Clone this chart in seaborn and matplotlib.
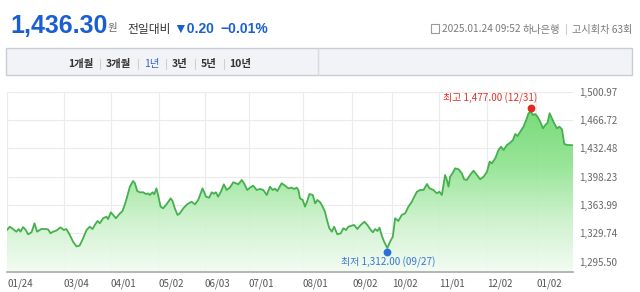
import numpy as np
import pandas as pd
import matplotlib
matplotlib.use("Agg")
import matplotlib.pyplot as plt
import seaborn as sns
from matplotlib.transforms import ScaledTranslation
from matplotlib.patches import Rectangle
from matplotlib.lines import Line2D
from matplotlib.colors import LinearSegmentedColormap

# ---------------- data ----------------
session = [0.0, 1.2, 2.6, 4.1, 5.1, 5.9, 7.0, 8.2, 9.2, 10.7, 12.0, 13.1, 15.0, 16.5, 17.9, 19.0,
           20.1, 21.6, 23.3, 24.8, 25.9, 27.4, 28.8, 30.3, 31.7, 33.2, 34.7, 36.1, 37.3, 38.3, 39.5,
           40.5, 41.9, 43.4, 44.1, 45.3, 46.3, 47.5, 48.9, 50.4, 51.8, 53.6, 55.0, 55.8, 56.8, 57.9,
           59.4, 60.6, 61.6, 62.3, 63.5, 64.2, 65.2, 65.9, 67.0, 68.1, 69.6, 71.4, 72.2, 73.2, 74.4,
           75.4, 76.9, 78.6, 80.5, 82.0, 83.4, 85.3, 86.8, 88.2, 89.3, 90.3, 91.1, 92.1, 93.3, 94.6,
           95.8, 97.2, 98.7, 99.9, 100.9, 102.4, 103.4, 104.8, 106.0, 107.4, 108.9, 110.4, 111.8,
           113.3, 114.7, 115.9, 116.9, 117.9, 119.8, 121.3, 122.7, 124.2, 125.3, 126.4, 127.1, 127.8,
           129.0, 130.0, 131.0, 131.9, 133.4, 134.4, 135.4, 136.6, 137.7, 138.7, 139.7, 140.6, 141.7,
           142.7, 144.1, 145.6, 146.7, 147.9, 148.9, 150.4, 151.4, 152.8, 154.3, 155.9, 157.2, 158.4,
           159.6, 160.6, 161.6, 162.5, 163.5, 164.5, 165.9, 167.1, 168.3, 169.3, 170.7, 172.2, 173.7,
           175.1, 176.6, 177.3, 178.8, 180.2, 181.7, 183.2, 184.3, 186.0, 187.5, 188.6, 189.7, 191.1,
           191.9, 192.6, 193.3, 194.5, 195.5, 197.0, 198.4, 199.4, 200.6, 202.0, 203.5, 205.0, 206.4,
           207.9, 209.4, 210.5, 211.5, 213.0, 214.4, 215.5, 216.6, 218.1, 219.5, 220.7, 221.7, 222.7,
           223.9, 225.3, 226.5, 227.5, 228.5, 229.4, 230.4, 231.4, 232.6, 233.8, 234.8, 235.8, 236.7,
           237.7, 238.7, 239.9, 241.0, 242.1, 243.1, 244.3, 246.9]
rate = [1333.8, 1337.8, 1335.0, 1331.8, 1335.0, 1331.8, 1337.4, 1333.8, 1328.6, 1331.0, 1341.9, 1331.8,
        1335.0, 1335.0, 1334.6, 1329.8, 1331.8, 1333.2, 1337.0, 1333.8, 1335.0, 1327.8, 1319.7, 1314.0,
        1315.0, 1323.8, 1333.8, 1337.8, 1335.0, 1339.9, 1344.7, 1341.9, 1348.0, 1349.9, 1347.0, 1355.2,
        1352.0, 1348.0, 1352.8, 1356.8, 1368.0, 1386.2, 1393.0, 1390.3, 1380.9, 1379.4, 1379.4, 1377.3,
        1378.0, 1376.1, 1379.4, 1377.0, 1384.2, 1376.1, 1362.0, 1360.0, 1364.9, 1372.1, 1368.9, 1360.0,
        1352.0, 1354.0, 1360.0, 1364.9, 1368.0, 1364.9, 1370.1, 1384.2, 1374.1, 1372.9, 1379.4, 1377.7,
        1379.4, 1374.1, 1380.1, 1389.0, 1382.2, 1385.0, 1391.5, 1390.3, 1389.0, 1394.3, 1390.3, 1382.2,
        1385.0, 1387.4, 1382.2, 1383.4, 1382.2, 1376.1, 1386.2, 1382.2, 1383.8, 1380.9, 1390.3, 1387.4,
        1384.2, 1385.0, 1383.4, 1385.0, 1382.2, 1372.1, 1370.1, 1362.0, 1368.9, 1377.3, 1376.1, 1366.0,
        1370.1, 1367.3, 1362.0, 1355.9, 1344.7, 1335.9, 1331.8, 1337.8, 1328.6, 1329.8, 1335.9, 1333.8,
        1337.8, 1339.0, 1339.9, 1335.0, 1339.9, 1343.8, 1339.9, 1335.0, 1331.0, 1335.0, 1332.6, 1336.6,
        1326.9, 1319.7, 1312.0, 1319.7, 1325.7, 1348.0, 1344.7, 1352.0, 1354.0, 1362.0, 1368.0, 1372.1,
        1380.1, 1382.2, 1382.2, 1389.4, 1384.2, 1382.2, 1378.2, 1380.1, 1376.1, 1400.3, 1394.3, 1386.2,
        1398.2, 1403.1, 1408.4, 1407.2, 1402.3, 1395.1, 1394.3, 1400.3, 1405.5, 1400.3, 1395.1, 1398.2,
        1404.3, 1416.4, 1414.4, 1420.5, 1430.5, 1434.5, 1430.5, 1436.6, 1439.3, 1442.6, 1449.9, 1447.4,
        1452.6, 1458.7, 1466.8, 1474.9, 1477.0, 1472.8, 1474.0, 1470.8, 1464.7, 1456.7, 1460.7, 1463.5,
        1474.9, 1468.8, 1462.8, 1456.7, 1458.7, 1455.5, 1437.8, 1436.6, 1436.3]

tick_session = [0, 24.8, 45.3, 66.2, 86.3, 105.5, 129.1, 150.5, 168.0, 188.6, 209.5, 230.9]
tick_labels = ["01/24", "03/04", "04/01", "05/02", "06/03", "07/01", "08/01",
               "09/02", "10/02", "11/01", "12/02", "01/02"]
y_levels = [1295.50, 1329.74, 1363.99, 1398.23, 1432.48, 1466.72, 1500.97]
y_floor = 1283.41

current_rate = "1,436.30"
currency_unit = "원"
change_caption = "전일대비"
change_value = "▼0.20"
change_pct = "\u22120.01%"
stamp_time = "2025.01.24 09:52"
stamp_bank = "하나은행"
stamp_round = "고시회차 63회"
tabs = ["1개월", "3개월", "1년", "3년", "5년", "10년"]
active_tab = "1년"
high_label = "최고 1,477.00 (12/31)"
low_label = "최저 1,312.00 (09/27)"

df = pd.DataFrame({"session": session, "rate": rate})

# ---------------- style ----------------
sns.set_style("white")
plt.rcParams["font.family"] = ["Noto Sans CJK KR", "DejaVu Sans"]

W, H = 640, 292
fig = plt.figure(figsize=(6.4, 2.92), dpi=100)
fig.patch.set_facecolor("white")

def fx(px):
    return px / W

def fy(py):
    return (H - py) / H

ax = fig.add_axes([fx(7), fy(271.7), fx(573) - fx(7), fy(91.7) - fy(271.7)])
ax.set_facecolor("white")

line_col = "#45b04e"
sns.lineplot(data=df, x="session", y="rate", ax=ax, color=line_col, lw=1.3, zorder=4)

# gradient fill under the line
poly = ax.fill_between(df["session"], df["rate"], y_floor, color="none", lw=0)
path = poly.get_paths()[0]
cmap = LinearSegmentedColormap.from_list(
    "g", ["#f3fcf3", "#c9f1c9", "#8fe38f", "#6fd96f"])
grad = np.linspace(0, 1, 256).reshape(-1, 1)
im = ax.imshow(grad, extent=[min(session), max(session), y_floor, max(rate)],
               origin="lower", aspect="auto", cmap=cmap, zorder=2, alpha=0.92)
im.set_clip_path(path, transform=ax.transData)

ax.set_xlim(min(session), max(session))
ax.set_ylim(y_floor, y_levels[-1])

# grid & axes
ax.set_xticks(tick_session, tick_labels)
ax.set_yticks(y_levels, [f"{v:,.2f}" for v in y_levels])
ax.yaxis.tick_right()
ax.grid(True, color="#ebebeb", lw=0.8, zorder=0)
ax.set_axisbelow(True)
for s in ["top", "left", "right"]:
    ax.spines[s].set_visible(False)
ax.spines["bottom"].set_color("#a8a8a8")
ax.spines["bottom"].set_linewidth(1.2)
ax.tick_params(axis="x", length=2.5, width=0.8, color="#a8a8a8", pad=2.5,
               labelsize=7, labelcolor="#555555")
ax.tick_params(axis="y", length=0, pad=4.3, labelsize=7, labelcolor="#666666")
for lbl in ax.get_xticklabels():
    lbl.set_ha("left")
ax.set_xlabel("")
ax.set_ylabel("")

# high / low markers
i_hi = int(np.argmax(rate))
i_lo = int(np.argmin(rate))
up = ax.transData + ScaledTranslation(0, 3.4 / 100, fig.dpi_scale_trans)
dn = ax.transData + ScaledTranslation(0, -3.6 / 100, fig.dpi_scale_trans)
ax.plot([session[i_hi]], [rate[i_hi]], "o", color="#e0291f", ms=4.6, transform=up, zorder=6,
        clip_on=False)
ax.plot([session[i_lo]], [rate[i_lo]], "o", color="#2c6fd8", ms=4.6, transform=dn, zorder=6,
        clip_on=False)
ax.annotate(high_label, xy=(session[i_hi], rate[i_hi]), xytext=(6 * 0.72, 13.5 * 0.72),
            textcoords="offset points", ha="right", va="center", fontsize=7.2,
            color="#e0352b", zorder=7)
ax.annotate(low_label, xy=(session[i_lo], rate[i_lo]), xytext=(1 * 0.72, -14 * 0.72),
            textcoords="offset points", ha="center", va="center", fontsize=7.2,
            color="#3a78d0", zorder=7, annotation_clip=False)

# ---------------- header ----------------
blue = "#1a5fd1"
fig.text(fx(10), fy(33), current_rate, fontsize=18, weight="bold", color=blue,
         family=["Liberation Sans", "DejaVu Sans"], va="baseline")
fig.text(fx(107), fy(31), currency_unit, fontsize=7.5, color="#666666", va="baseline")
fig.text(fx(127), fy(32.5), change_caption, fontsize=8.5, color="#333333", va="baseline",
         weight="medium")
fig.text(fx(173), fy(33), change_value, fontsize=10, weight="bold", color=blue,
         family=["Liberation Sans", "DejaVu Sans"], va="baseline")
fig.text(fx(220), fy(33), change_pct, fontsize=10, weight="bold", color=blue,
         family=["Liberation Sans", "DejaVu Sans"], va="baseline")

# right stamp
fig.add_artist(Rectangle((fx(431), fy(33)), fx(8), fy(24) - fy(33), fill=False,
                         ec="#9a9a9a", lw=0.8, transform=fig.transFigure))
fig.text(fx(442), fy(32.5), stamp_time, fontsize=7.3, color="#7a7a7a", va="baseline")
fig.text(fx(523), fy(32.5), stamp_bank, fontsize=7.3, color="#7a7a7a", va="baseline")
fig.add_artist(Line2D([fx(566), fx(566)], [fy(24), fy(34)], color="#cccccc", lw=0.8,
                      transform=fig.transFigure))
fig.text(fx(632), fy(32.5), stamp_round, fontsize=7.3, color="#7a7a7a", va="baseline",
         ha="right")

# tab bar
fig.add_artist(Rectangle((fx(6), fy(75)), fx(632) - fx(6), fy(48) - fy(75),
                         fc="#f2f3f6", ec="#c8ccd4", lw=1.0, transform=fig.transFigure,
                         zorder=0))
fig.add_artist(Line2D([fx(318), fx(318)], [fy(48), fy(75)], color="#d6d9df", lw=1.0,
                      transform=fig.transFigure))
tab_centers = [80.5, 118.5, 151.5, 180, 209, 240.5]
sep_x = [100, 138, 166, 195, 224]
for name, cx in zip(tabs, tab_centers):
    is_active = name == active_tab
    fig.text(fx(cx), fy(63.5), name, fontsize=7.5, ha="center", va="center",
             color="#3a63c6" if is_active else "#333333",
             weight="normal" if is_active else "bold")
for sx in sep_x:
    fig.add_artist(Line2D([fx(sx), fx(sx)], [fy(58.5), fy(68.5)], color="#d0d0d0", lw=0.8,
                          transform=fig.transFigure))

fig.savefig("out.png", dpi=100, facecolor="white")
